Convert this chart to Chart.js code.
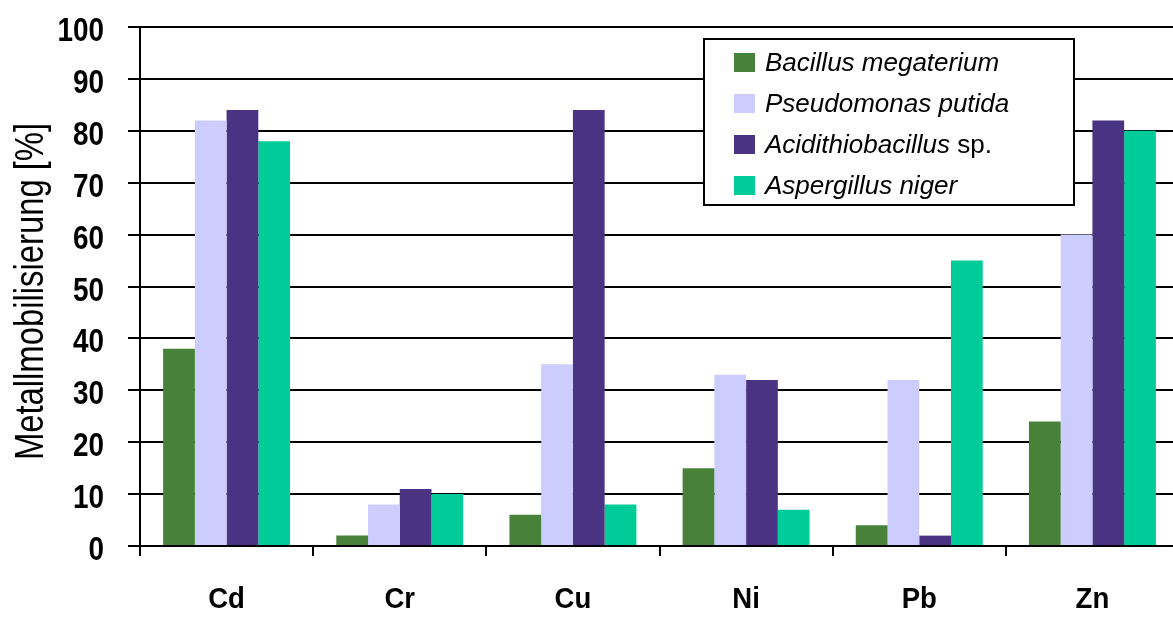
<!DOCTYPE html>
<html>
<head>
<meta charset="utf-8">
<style>
  html, body { margin: 0; padding: 0; background: #fff; overflow: hidden; }
  #wrap { position: relative; width: 1180px; height: 617px; }
</style>
<script src="https://cdn.jsdelivr.net/npm/chart.js@4/dist/chart.umd.min.js"></script>
</head>
<body>
<div id="wrap"><canvas id="c"></canvas></div>
<script>
// Metals tested for mobilisation
const metals = ['Cd', 'Cr', 'Cu', 'Ni', 'Pb', 'Zn'];

// Mobilisation in percent per organism
const bacillusMegaterium     = [38, 2, 6, 15, 4, 24];
const pseudomonasPutida      = [82, 8, 35, 33, 32, 60];
const acidithiobacillusSp    = [84, 11, 84, 32, 2, 82];
const aspergillusNiger       = [78, 10, 8, 7, 55, 80];

// Legend entries: [italic part, upright part]
const organismLabels = [
  ['Bacillus megaterium', ''],
  ['Pseudomonas putida', ''],
  ['Acidithiobacillus', ' sp.'],
  ['Aspergillus niger', '']
];

const yTicks = [0, 10, 20, 30, 40, 50, 60, 70, 80, 90, 100];
const yTitle = 'Metallmobilisierung [%]';

const colors = ['#48823a', '#ccccff', '#4b3384', '#00cc99'];

const sans = '"Liberation Sans", Arial, sans-serif';

// Draw text horizontally condensed by factor sx
function condensedText(ctx, text, x, y, sx, align) {
  ctx.save();
  ctx.translate(x, y);
  ctx.scale(sx, 1);
  ctx.textAlign = align;
  ctx.fillText(text, 0, 0);
  ctx.restore();
}

// Axis labels and title in a condensed face
const axisText = {
  id: 'axisText',
  afterDraw(chart) {
    const ctx = chart.ctx;
    const xs = chart.scales.x, ys = chart.scales.y;
    ctx.save();
    ctx.fillStyle = '#000';
    ctx.textBaseline = 'alphabetic';

    ctx.font = 'bold 34px ' + sans;
    yTicks.forEach(v => {
      const py = ys.getPixelForValue(v);
      condensedText(ctx, String(v), ys.right - 36, py + 14, 0.82, 'right');
    });

    ctx.font = 'bold 29px ' + sans;
    metals.forEach((m, i) => {
      const px = xs.getPixelForValue(i);
      condensedText(ctx, m, px, xs.top + 62, 0.95, 'center');
    });

    ctx.font = '40px ' + sans;
    ctx.translate(43, (ys.top + ys.bottom) / 2 + 5);
    ctx.rotate(-Math.PI / 2);
    condensedText(ctx, yTitle, 0, 0, 0.82, 'center');
    ctx.restore();
  }
};

// Boxed legend with mixed italic/upright labels
const boxLegend = {
  id: 'boxLegend',
  afterDatasetsDraw(chart) {
    const ctx = chart.ctx;
    const x0 = 704, y0 = 39, w = 370, h = 166;
    ctx.save();
    ctx.fillStyle = '#fff';
    ctx.fillRect(x0, y0, w, h);
    ctx.strokeStyle = '#000';
    ctx.lineWidth = 2;
    ctx.strokeRect(x0, y0, w, h);
    chart.data.datasets.forEach((ds, i) => {
      const cy = 62 + i * 41;
      ctx.fillStyle = ds.backgroundColor;
      ctx.fillRect(734, cy - 9, 21, 19);
      const [it, up] = organismLabels[i];
      ctx.fillStyle = '#000';
      ctx.textBaseline = 'alphabetic';
      ctx.textAlign = 'left';
      ctx.font = 'italic 26px ' + sans;
      ctx.fillText(it, 765, cy + 9);
      if (up) {
        const wIt = ctx.measureText(it).width;
        ctx.font = '26px ' + sans;
        ctx.fillText(up, 765 + wIt, cy + 9);
      }
    });
    ctx.restore();
  }
};

const series = [bacillusMegaterium, pseudomonasPutida, acidithiobacillusSp, aspergillusNiger];

new Chart(document.getElementById('c'), {
  type: 'bar',
  data: {
    labels: metals,
    datasets: series.map((d, i) => ({
      label: organismLabels[i].join(''),
      data: d,
      backgroundColor: colors[i],
      borderWidth: 0,
      categoryPercentage: 0.733,
      barPercentage: 1.0
    }))
  },
  options: {
    responsive: true,
    maintainAspectRatio: false,
    animation: false,
    layout: { padding: { top: 27, right: 1, left: 0, bottom: 0 } },
    plugins: {
      legend: { display: false },
      tooltip: { enabled: false }
    },
    scales: {
      x: {
        offset: true,
        grid: {
          display: true,
          drawOnChartArea: false,
          drawTicks: true,
          tickLength: 10,
          color: '#000',
          lineWidth: 2
        },
        border: { display: true, color: '#000', width: 2 },
        ticks: { display: false },
        afterFit(scale) { scale.height = 71; }
      },
      y: {
        min: 0,
        max: 100,
        afterBuildTicks(scale) { scale.ticks = yTicks.map(v => ({ value: v })); },
        grid: {
          color: '#000',
          lineWidth: 2,
          tickLength: 12,
          drawTicks: true
        },
        border: { display: true, color: '#000', width: 2 },
        ticks: { display: false },
        title: { display: false },
        afterFit(scale) { scale.width = 140; }
      }
    }
  },
  plugins: [boxLegend, axisText]
});
</script>
</body>
</html>
